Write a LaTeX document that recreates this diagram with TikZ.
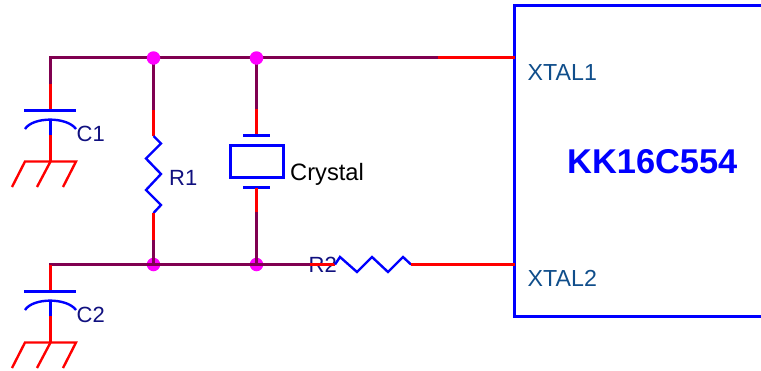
\documentclass[tikz,border=0pt]{standalone}
\usepackage{fontspec}
\setmainfont{Liberation Sans}
\definecolor{wiremaroon}{HTML}{800050}
\definecolor{labelnavy}{HTML}{10107F}
\definecolor{pinblue}{HTML}{104E8B}
\definecolor{dotmagenta}{HTML}{FF00FF}
\definecolor{purered}{HTML}{FF0000}
\definecolor{pureblue}{HTML}{0000FF}
\tikzset{
  wireM/.style={draw=wiremaroon,line width=2.4pt},
  wireR/.style={draw=purered,line width=2.4pt},
  part/.style={draw=pureblue,line width=2.4pt},
  gnd/.style={draw=purered,line width=2.4pt},
  junction/.style={circle,fill=dotmagenta,inner sep=0pt,minimum size=13.5pt},
  reflabel/.style={anchor=base west,inner sep=0pt,font=\fontsize{22}{24}\selectfont,text=labelnavy},
  pinlabel/.style={anchor=base west,inner sep=0pt,font=\fontsize{23.2}{26}\selectfont,text=pinblue},
  plainlabel/.style={anchor=base west,inner sep=0pt,font=\fontsize{23.7}{26}\selectfont,text=black},
  chiplabel/.style={anchor=base west,inner sep=0pt,font=\fontsize{34.4}{38}\selectfont\bfseries,text=pureblue}
}
\begin{document}
\begin{tikzpicture}[x=1pt,y=-1pt,line join=miter]
\useasboundingbox (0,0) rectangle (761,370);
% anchor points
\coordinate (tl) at (50.5,57.5);
\coordinate (bl) at (50.5,264.5);
\coordinate (pinA) at (514.5,57.5);
\coordinate (pinB) at (514.5,264.5);
\coordinate (tRed) at (438,57.5);
\coordinate (c1a) at (50.5,84);
\coordinate (c1b) at (50.5,110.5);
\coordinate (c1c) at (50.5,119.5);
\coordinate (c1d) at (50.5,135);
\coordinate (g1) at (50.5,161.5);
\coordinate (c2a) at (50.5,291.5);
\coordinate (c2c) at (50.5,300.5);
\coordinate (c2d) at (50.5,316);
\coordinate (g2) at (50.5,342.5);
\coordinate (r1a) at (153.5,110);
\coordinate (r1b) at (153.5,136);
\coordinate (r1c) at (153.5,213);
\coordinate (r1d) at (153.5,240);
\coordinate (xa) at (256.5,109);
\coordinate (xb) at (256.5,135.5);
\coordinate (xc) at (256.5,187.5);
\coordinate (xd) at (256.5,212);
\coordinate (r2a) at (310,264.5);
\coordinate (r2b) at (335,264.5);
\coordinate (r2c) at (411,264.5);
% labels under the wires
\node[reflabel] (lc1) at (76.5,141.5) {C1};
\node[reflabel] (lc2) at (76.5,322) {C2};
\node[reflabel] (lr1) at (169,185.5) {R1};
\node[reflabel] (lr2) at (308.5,272.5) {R2};
\node[plainlabel] (lx) at (290,180) {Crystal};
\node[pinlabel] (p1) at (527.5,80) {XTAL1};
\node[pinlabel] (p2) at (527.5,286.5) {XTAL2};
\node[chiplabel] (chip) at (567,173) {KK16C554};
% chip outline
\draw[part] (761,5.5) -- (514.5,5.5) -- (514.5,316.5) -- (761,316.5);
% lower junctions sit under the wire
\node[junction] (j3) at (153.5,264.5) {};
\node[junction] (j4) at (256.5,264.5) {};
% C1
\draw[wireM] (c1a) -- (tl) -- (pinA);
\draw[wireR] (tRed) -- (pinA);
\draw[wireR] (c1a) -- (c1b);
\draw[part] (24,110.5) -- (76,110.5);
\draw[part] (25,129) .. controls (33,116.5) and (67,116.5) .. (76,129);
\draw[part] (c1c) -- (c1d);
\draw[gnd] (c1d) -- (g1);
\draw[gnd] (12,187) -- (25,161.5) -- (76,161.5) -- (63,187);
\draw[gnd] (g1) -- (37,187);
% C2
\draw[wireM,line cap=rect] (bl) -- (r2a);
\draw[wireR] (bl) -- (c2a);
\draw[part] (24,291.5) -- (76,291.5);
\draw[part] (25,310) .. controls (33,297.5) and (67,297.5) .. (76,310);
\draw[part] (c2c) -- (c2d);
\draw[gnd] (c2d) -- (g2);
\draw[gnd] (12,368) -- (25,342.5) -- (76,342.5) -- (63,368);
\draw[gnd] (g2) -- (37,368);
% R1
\draw[wireM] (153.5,57.5) -- (r1a);
\draw[wireR] (r1a) -- (r1b);
\draw[part] (r1b) -- (161,143.5) -- (146,158.5) -- (161,174) -- (146,190) -- (161,205) -- (r1c);
\draw[wireR] (r1c) -- (r1d);
\draw[wireM] (r1d) -- (j3.center);
% Crystal
\draw[wireM] (256.5,57.5) -- (xa);
\draw[wireR] (xa) -- (xb);
\draw[part] (243,135.5) -- (270,135.5);
\draw[part] (230.5,145.5) rectangle (283.5,177.5);
\draw[part] (243,187.5) -- (270,187.5);
\draw[wireR] (xc) -- (xd);
\draw[wireM] (xd) -- (j4.center);
% R2
\draw[wireR] (r2a) -- (r2b);
\draw[part] (r2b) -- (340,257) -- (357,272) -- (372,257) -- (388,272) -- (403,257) -- (r2c);
\draw[wireR] (r2c) -- (pinB);
% upper junctions sit over the wire
\node[junction] (j1) at (153.5,58) {};
\node[junction] (j2) at (256.5,58) {};
\end{tikzpicture}
\end{document}
